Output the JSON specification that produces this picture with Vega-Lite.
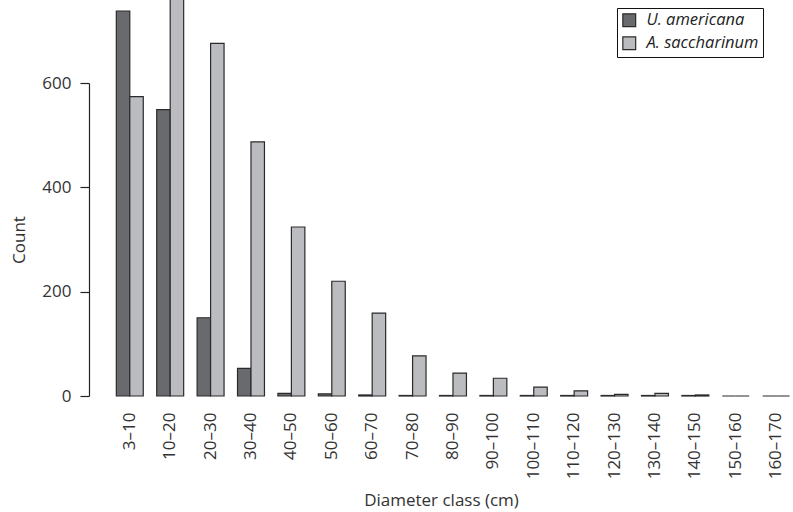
{
  "$schema": "https://vega.github.io/schema/vega-lite/v6.json",
  "autosize": "none",
  "width": 704,
  "height": 313,
  "padding": {"left": 89, "top": 83, "right": 0, "bottom": 116},
  "background": "white",
  "config": {
    "view": {"stroke": null},
    "font": "Open Sans",
    "axis": {"labelFont": "Open Sans", "titleFont": "Open Sans", "labelColor": "#333333", "titleColor": "#333333", "titleFontWeight": "normal", "labelFontSize": 17, "titleFontSize": 17, "grid": false}
  },
  "data": {
    "values": [
      {"class": "3–10", "species": "U. americana", "count": 738},
      {"class": "3–10", "species": "A. saccharinum", "count": 574},
      {"class": "10–20", "species": "U. americana", "count": 549},
      {"class": "10–20", "species": "A. saccharinum", "count": 830},
      {"class": "20–30", "species": "U. americana", "count": 150},
      {"class": "20–30", "species": "A. saccharinum", "count": 676},
      {"class": "30–40", "species": "U. americana", "count": 53},
      {"class": "30–40", "species": "A. saccharinum", "count": 487},
      {"class": "40–50", "species": "U. americana", "count": 5},
      {"class": "40–50", "species": "A. saccharinum", "count": 324},
      {"class": "50–60", "species": "U. americana", "count": 4},
      {"class": "50–60", "species": "A. saccharinum", "count": 220},
      {"class": "60–70", "species": "U. americana", "count": 2},
      {"class": "60–70", "species": "A. saccharinum", "count": 159},
      {"class": "70–80", "species": "U. americana", "count": 1},
      {"class": "70–80", "species": "A. saccharinum", "count": 77},
      {"class": "80–90", "species": "U. americana", "count": 1},
      {"class": "80–90", "species": "A. saccharinum", "count": 44},
      {"class": "90–100", "species": "U. americana", "count": 1},
      {"class": "90–100", "species": "A. saccharinum", "count": 34},
      {"class": "100–110", "species": "U. americana", "count": 1},
      {"class": "100–110", "species": "A. saccharinum", "count": 17},
      {"class": "110–120", "species": "U. americana", "count": 1},
      {"class": "110–120", "species": "A. saccharinum", "count": 10},
      {"class": "120–130", "species": "U. americana", "count": 1},
      {"class": "120–130", "species": "A. saccharinum", "count": 3},
      {"class": "130–140", "species": "U. americana", "count": 1},
      {"class": "130–140", "species": "A. saccharinum", "count": 5},
      {"class": "140–150", "species": "U. americana", "count": 1},
      {"class": "140–150", "species": "A. saccharinum", "count": 2},
      {"class": "150–160", "species": "U. americana", "count": 0},
      {"class": "150–160", "species": "A. saccharinum", "count": 0},
      {"class": "160–170", "species": "U. americana", "count": 0},
      {"class": "160–170", "species": "A. saccharinum", "count": 0}
    ]
  },
  "mark": {"type": "bar", "stroke": "#2b2b2b", "strokeWidth": 1.2, "clip": false},
  "encoding": {
    "x": {
      "field": "class",
      "type": "nominal",
      "sort": null,
      "scale": {"paddingInner": 0.333, "paddingOuter": 0.38, "align": 0.89},
      "axis": {
        "title": "Diameter class (cm)",
        "labelAngle": 270,
        "domain": false,
        "ticks": false,
        "labelPadding": 16,
        "titlePadding": 14
      }
    },
    "xOffset": {"field": "species", "type": "nominal", "sort": ["U. americana", "A. saccharinum"], "scale": {"paddingInner": 0, "paddingOuter": 0}},
    "y": {
      "field": "count",
      "type": "quantitative",
      "scale": {"domain": [0, 600], "nice": false},
      "axis": {
        "title": "Count",
        "values": [0, 200, 400, 600],
        "domainColor": "#222222",
        "tickColor": "#222222",
        "tickSize": 9,
        "labelPadding": 9,
        "titlePadding": 13,
        "domainWidth": 1.2,
        "tickWidth": 1.2
      }
    },
    "fill": {
      "field": "species",
      "type": "nominal",
      "sort": ["U. americana", "A. saccharinum"],
      "scale": {"domain": ["U. americana", "A. saccharinum"], "range": ["#696a6e", "#bbbcc0"]},
      "legend": {
        "title": null,
        "orient": "none",
        "legendX": 528,
        "legendY": -75,
        "direction": "vertical",
        "strokeColor": "#111111",
        "fillColor": "white",
        "padding": 4,
        "symbolType": "square",
        "symbolSize": 165,
        "symbolStrokeColor": "#2b2b2b",
        "symbolStrokeWidth": 1.2,
        "symbolOpacity": 1,
        "labelFontSize": 16.5,
        "labelFontStyle": "italic",
        "labelColor": "#222222",
        "labelFont": "Open Sans",
        "rowPadding": 4,
        "labelOffset": 9
      }
    }
  }
}
